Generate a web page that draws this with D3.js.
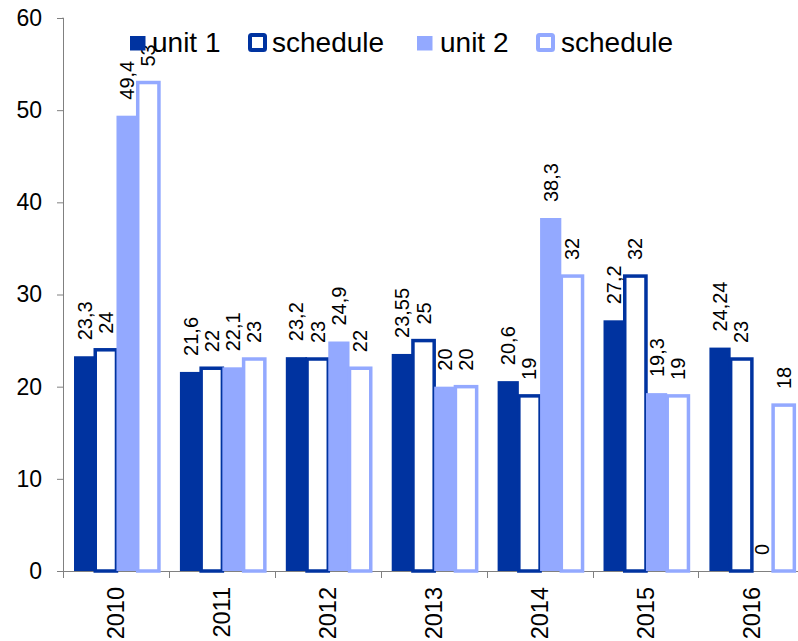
<!DOCTYPE html>
<html>
<head>
<meta charset="utf-8">
<script src="https://cdn.jsdelivr.net/npm/d3@7"></script>
<style>
  html, body { margin: 0; padding: 0; background: #fff; }
  svg { display: block; font-family: "Liberation Sans", Arial, sans-serif; }
</style>
</head>
<body>
<svg id="chart" width="798" height="641"></svg>
<script>
const years = ["2010", "2011", "2012", "2013", "2014", "2015", "2016"];
const unit1 = [23.3, 21.6, 23.2, 23.55, 20.6, 27.2, 24.24];
const schedule1 = [24, 22, 23, 25, 19, 32, 23];
const unit2 = [49.4, 22.1, 24.9, 20, 38.3, 19.3, 0];
const schedule2 = [53, 23, 22, 20, 32, 19, 18];
const yTicks = [0, 10, 20, 30, 40, 50, 60];
const seriesNames = ["unit 1", "schedule", "unit 2", "schedule"];

const dark = "#0033A0";
const light = "#93A9FF";

const series = [
  { name: seriesNames[0], values: unit1, color: dark, outline: false },
  { name: seriesNames[1], values: schedule1, color: dark, outline: true },
  { name: seriesNames[2], values: unit2, color: light, outline: false },
  { name: seriesNames[3], values: schedule2, color: light, outline: true }
];

const svg = d3.select("#chart");
const left = 63, zeroY = 571, topY = 18;
const bandW = 105.9;

const x = d3.scaleBand().domain(years).range([left, left + bandW * years.length]).padding(0);
const inner = d3.scaleBand().domain(d3.range(series.length))
  .range([x.bandwidth() * 0.104, x.bandwidth() * 0.906]).padding(0);
const y = d3.scaleLinear().domain([0, 60]).range([zeroY, topY]);

const axisColor = "#808080";

// Y axis
const yAxis = svg.append("g").attr("transform", `translate(${left},0)`)
  .call(d3.axisLeft(y).tickValues(yTicks).tickSize(6).tickPadding(15).tickFormat(d3.format("d")));
yAxis.select(".domain").attr("stroke", axisColor).attr("d", `M-0.5,${topY}H0.5V${zeroY + 7}`);
yAxis.selectAll(".tick line").attr("stroke", axisColor);
yAxis.selectAll(".tick text").attr("fill", "#000").attr("font-size", 23).attr("font-family", "Liberation Sans, Arial, sans-serif");

// X axis line and boundary ticks
const xg = svg.append("g");
xg.append("line").attr("x1", left).attr("x2", x.range()[1]).attr("y1", zeroY + 0.5).attr("y2", zeroY + 0.5)
  .attr("stroke", axisColor).attr("stroke-width", 1);
const boundaries = years.map(d => x(d)).concat([x.range()[1]]);
xg.selectAll("line.bt").data(boundaries).join("line").attr("class", "bt")
  .attr("x1", d => Math.round(d) + 0.5).attr("x2", d => Math.round(d) + 0.5)
  .attr("y1", zeroY).attr("y2", zeroY + 7).attr("stroke", axisColor);
xg.selectAll("text.xl").data(years).join("text").attr("class", "xl")
  .attr("transform", d => `translate(${x(d) + x.bandwidth() / 2},${zeroY + 16}) rotate(-90)`)
  .attr("text-anchor", "end").attr("dy", "0.35em").attr("font-size", 23.5).attr("fill", "#000")
  .text(d => d);

// Bars
const groups = svg.append("g");
series.forEach((s, si) => {
  const g = groups.append("g");
  g.selectAll("rect").data(s.values.map((v, i) => ({ v, year: years[i] }))).join("rect")
    .attr("x", d => x(d.year) + inner(si))
    .attr("width", inner.bandwidth())
    .attr("y", d => y(d.v))
    .attr("height", d => y(0) - y(d.v))
    .attr("fill", s.outline ? "#fff" : s.color)
    .attr("stroke", s.outline ? s.color : "none")
    .attr("stroke-width", s.outline ? 3.5 : 0)
    .style("display", d => d.v === 0 && s.outline ? "none" : null);
});

// Labels
const fmt = v => String(v).replace(".", ",");
series.forEach((s, si) => {
  svg.append("g").selectAll("text").data(s.values.map((v, i) => ({ v, year: years[i] }))).join("text")
    .attr("transform", d => `translate(${x(d.year) + inner(si) + inner.bandwidth() / 2},${y(d.v) - 16}) rotate(-90)`)
    .attr("text-anchor", "start").attr("dy", "0.35em").attr("font-size", 20).attr("fill", "#000")
    .text(d => fmt(d.v));
});

// Legend
const legendX = [130, 250, 417, 538];
const legendTextX = [152, 272, 440, 561];
const leg = svg.append("g");
series.forEach((s, i) => {
  if (s.outline) {
    leg.append("rect").attr("x", legendX[i]).attr("y", 35).attr("width", 15).attr("height", 15)
      .attr("rx", 1.5).attr("fill", "#fff").attr("stroke", s.color).attr("stroke-width", 4);
  } else {
    leg.append("rect").attr("x", legendX[i]).attr("y", 36).attr("width", 15.5).attr("height", 14.5)
      .attr("fill", s.color);
  }
  leg.append("text").attr("x", legendTextX[i]).attr("y", 52).attr("font-size", 28).attr("fill", "#000")
    .text(s.name);
});
</script>
</body>
</html>
